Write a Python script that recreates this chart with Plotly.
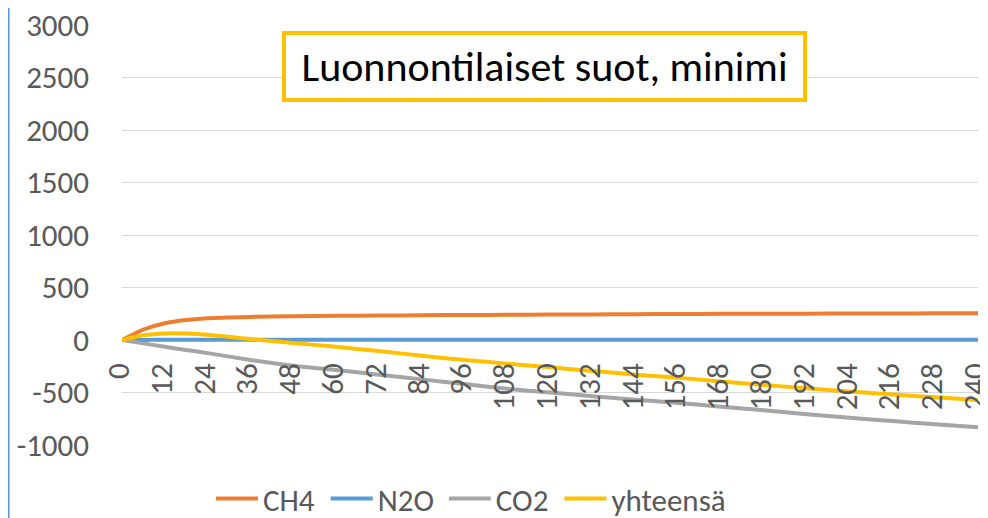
import plotly.graph_objects as go

# vaaka-akselin arvot (0 ... 240)
kuukausi = [0, 6, 12, 18, 24, 36, 48, 60, 72, 84, 96, 108, 120, 132, 144, 156, 168, 180, 192, 204, 216, 228, 240]

ch4 = [0, 100, 160, 190, 208, 220, 226, 230, 233, 236, 238, 240, 242, 244, 246, 248, 249, 250, 251, 252, 253, 254, 255]
n2o = [0, 1, 2, 2, 2, 2, 2, 2, 2, 2, 2, 2, 2, 2, 2, 2, 2, 2, 2, 2, 2, 2, 2]
co2 = [0, -32, -65, -95, -125, -190, -245, -285, -330, -375, -420, -465, -500, -535, -568, -600, -635, -670, -708, -740, -772, -802, -832]
yhteensa = [0, 45, 63, 62, 50, 8, -28, -65, -105, -150, -190, -225, -260, -295, -330, -360, -395, -428, -460, -490, -520, -545, -571]

x_ticks = list(range(0, 241, 12))
y_ticks = [-1000, -500, 0, 500, 1000, 1500, 2000, 2500, 3000]
y_labels = ['-1000', '-500', '0', '500', '1000', '1500', '2000', '2500', '3000']

FONT = "Calibri, Carlito, Lato, sans-serif"

sarjat = [
    ('CH4', ch4, '#ED7D31'),
    ('N2O', n2o, '#5B9BD5'),
    ('CO2', co2, '#A5A5A5'),
    ('yhteensä', yhteensa, '#FFC000'),
]

# jokaiselle sarjalle oma selite, jotta välit saadaan kuten Excelissä
selite_x = [0.104, 0.238, 0.376, 0.511]
selitteet = ['legend', 'legend2', 'legend3', 'legend4']

fig = go.Figure()
for (nimi, arvot, vari), sel in zip(sarjat, selitteet):
    fig.add_trace(go.Scatter(
        x=kuukausi, y=arvot, name=nimi, mode='lines', legend=sel,
        line=dict(color=vari, width=4, shape='spline', smoothing=0.6),
    ))

# sivun oletusmarginaali (8 px) huomioitu
fig.update_layout(
    width=988, height=510,
    margin=dict(l=114, r=18, t=17, b=73, autoexpand=False),
    plot_bgcolor='white', paper_bgcolor='white',
    font=dict(family=FONT, size=31, color='#595959'),
    showlegend=True,
    xaxis=dict(
        range=[0, 240], tickmode='array', tickvals=x_ticks,
        tickangle=-90, anchor='free', position=0.25,
        showgrid=False, zeroline=False, showline=False,
        ticks='', ticklabelstandoff=16, ticklabelshift=-3,
        ticklabeloverflow='allow', automargin=False,
    ),
    yaxis=dict(
        range=[-1000, 3000], tickmode='array', tickvals=y_ticks, ticktext=y_labels,
        showgrid=True, gridcolor='#D9D9D9', gridwidth=1,
        zeroline=True, zerolinecolor='#D9D9D9', zerolinewidth=1,
        showline=False, ticks='', ticklabelstandoff=32, automargin=False,
        ticklabeloverflow='allow',
    ),
    shapes=[dict(
        type='line', xref='paper', yref='paper',
        x0=-0.1325, x1=-0.1325, y0=-0.2, y1=1.05,
        line=dict(color='#5B9BD5', width=2),
    )],
    annotations=[dict(
        text='&nbsp;Luonnontilaiset suot, minimi&nbsp;', xref='paper', yref='paper',
        x=0.493, y=0.902, xanchor='center', yanchor='middle', showarrow=False,
        font=dict(family=FONT, size=42, color='black'),
        bgcolor='white', bordercolor='#FFC000', borderwidth=4, borderpad=6,
    )],
)
for sel, lx in zip(selitteet, selite_x):
    fig.update_layout({sel: dict(
        orientation='h', x=lx, xanchor='left', y=-0.128, yanchor='middle',
        font=dict(size=31, color='#595959'), bgcolor='rgba(0,0,0,0)',
        itemwidth=42,
    )})

fig.write_html("out.html")
